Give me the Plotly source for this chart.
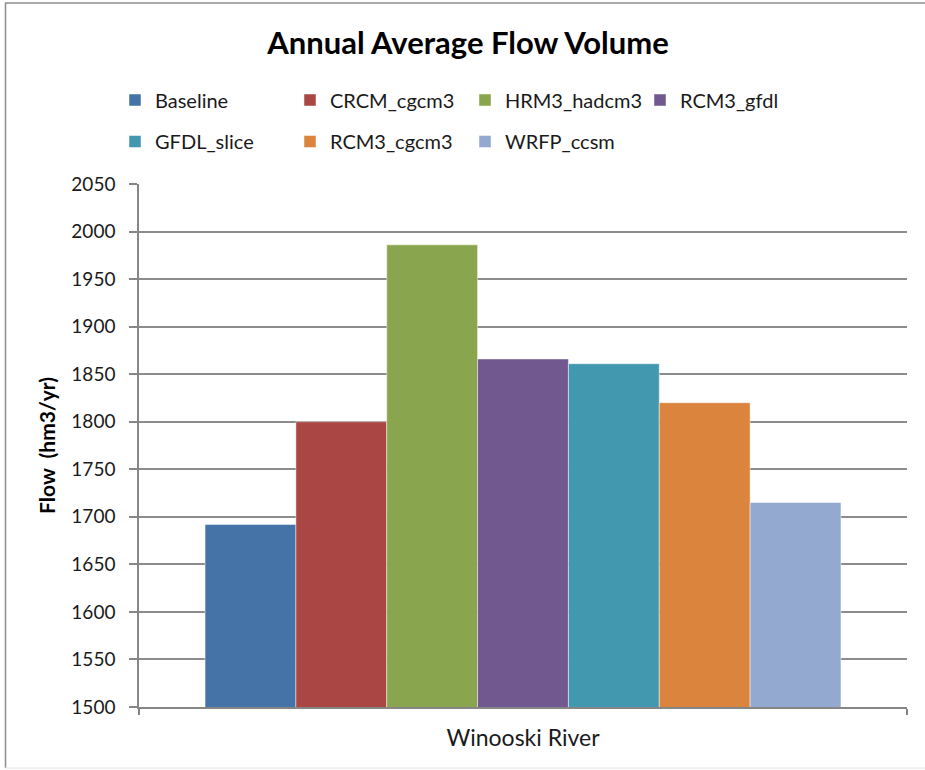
import plotly.graph_objects as go

category = ["Winooski River"]
series_names = ["Baseline", "CRCM_cgcm3", "HRM3_hadcm3", "RCM3_gfdl",
                "GFDL_slice", "RCM3_cgcm3", "WRFP_ccsm"]
series_values = [1692, 1800, 1986, 1866, 1861, 1820, 1715]
colors = ["#4572A7", "#AA4643", "#89A54E", "#71588F",
          "#4198AF", "#DB843D", "#93A9CF"]
y_ticks = list(range(1500, 2051, 50))

W, H = 925, 770
L, R, T, B = 139, 18, 184, 63
ph = H - T - B
pw = W - L - R

def px_x(p):
    return (p - L) / pw

def px_y(p):
    return (H - B - p) / ph

FONT = "Lato"
fig = go.Figure()
for i, (name, val, col) in enumerate(zip(series_names, series_values, colors)):
    fig.add_trace(go.Bar(
        x=category, y=[val], name=name,
        marker=dict(color=col, line=dict(color="rgba(255,255,255,0.6)", width=0.8)),
        legend="legend" if i < 4 else "legend2",
    ))

legend_common = dict(
    orientation="h", xanchor="left", yanchor="middle",
    font=dict(family=FONT, size=20, color="#1a1a1a"),
    entrywidth=130, entrywidthmode="pixels",
    bgcolor="rgba(0,0,0,0)", traceorder="normal",
)

fig.update_layout(
    width=W, height=H,
    margin=dict(l=L, r=R, t=T, b=B, autoexpand=False),
    paper_bgcolor="white", plot_bgcolor="white",
    barmode="group", bargap=0.172, bargroupgap=0,
    title=dict(text="<b>Annual Average Flow Volume</b>", x=px_x(468), xref="paper",
               xanchor="center", y=1 - 43 / H, yanchor="middle",
               font=dict(family=FONT, size=31, color="black")),
    legend=dict(x=px_x(115), y=px_y(100), **legend_common),
    legend2=dict(x=px_x(115), y=px_y(141.5), **legend_common),
    xaxis=dict(
        showline=True, linecolor="#868686", linewidth=1.5,
        ticks="outside", tickson="boundaries", ticklen=6, tickcolor="#868686", tickwidth=1.5,
        tickfont=dict(family=FONT, size=23, color="#1a1a1a"),
        ticklabelstandoff=10,
        showgrid=False,
    ),
    yaxis=dict(
        range=[1500, 2050], tickvals=y_ticks,
        showline=True, linecolor="#868686", linewidth=1.5,
        ticks="outside", ticklen=8, tickcolor="#868686", tickwidth=1.5,
        showgrid=True, gridcolor="#8c8c8c", gridwidth=1.5,
        tickfont=dict(family=FONT, size=19, color="#1a1a1a"),
        ticklabelstandoff=10,
        title=dict(text="<b>Flow  (hm3/yr)</b>", font=dict(family=FONT, size=21, color="black"),
                   standoff=10),
        zeroline=False,
    ),
    shapes=[
        dict(type="line", xref="paper", yref="paper", x0=px_x(5), x1=px_x(935),
             y0=px_y(3), y1=px_y(3), line=dict(color="#8c8c8c", width=1.5)),
        dict(type="line", xref="paper", yref="paper", x0=px_x(5.5), x1=px_x(5.5),
             y0=px_y(3), y1=px_y(768), line=dict(color="#8c8c8c", width=1.5)),
        dict(type="line", xref="paper", yref="paper", x0=px_x(5), x1=px_x(935),
             y0=px_y(768), y1=px_y(768), line=dict(color="#e6e6e6", width=1)),
    ],
)

fig.write_html("out.html", config={"displayModeBar": False},
               post_script="document.body.style.margin='0';document.body.style.overflow='hidden';")
